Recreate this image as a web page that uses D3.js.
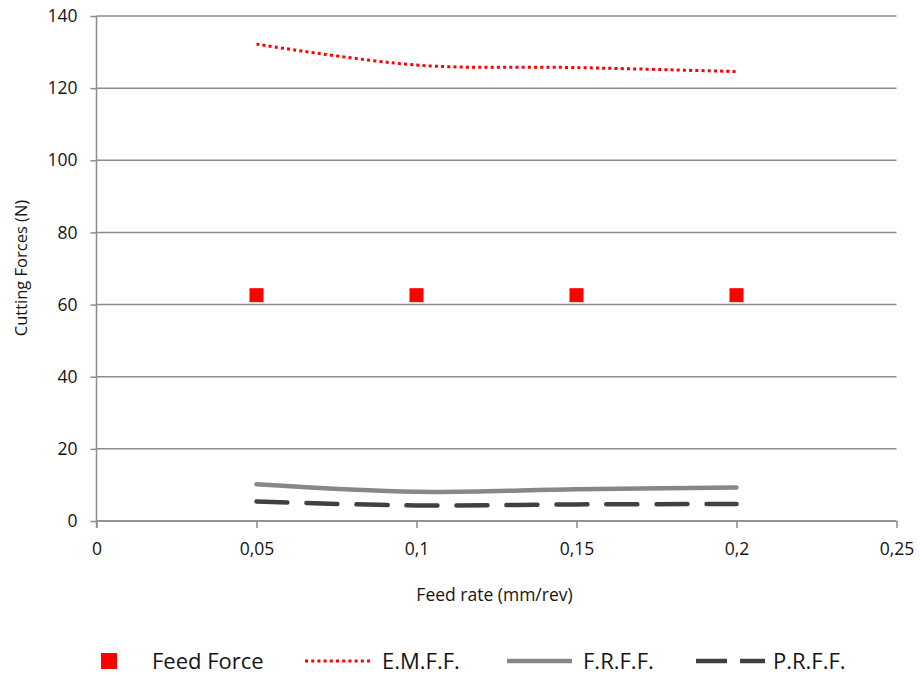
<!DOCTYPE html>
<html>
<head>
<meta charset="utf-8">
<script src="https://cdn.jsdelivr.net/npm/d3@7/dist/d3.min.js"></script>
<style>
  html, body { margin: 0; padding: 0; background: #fff; }
  svg { display: block; font-family: "Open Sans", sans-serif; }
</style>
</head>
<body>
<svg id="chart" width="920" height="677"></svg>
<script>
// Feed rate (mm/rev) and measured / predicted cutting forces (N)
const feedRates = [0.05, 0.1, 0.15, 0.2];
const feedForce = [62.6, 62.6, 62.6, 62.6];
const emff = [132.2, 126.4, 125.7, 124.6];
const frff = [10.2, 8.1, 8.8, 9.3];
const prff = [5.4, 4.3, 4.6, 4.7];

const xTicks = [0, 0.05, 0.1, 0.15, 0.2, 0.25];
const xTickLabels = ["0", "0,05", "0,1", "0,15", "0,2", "0,25"];
const yTicks = [0, 20, 40, 60, 80, 100, 120, 140];

const legendItems = [
  { name: "Feed Force", type: "square" },
  { name: "E.M.F.F.", type: "dotted" },
  { name: "F.R.F.F.", type: "solid" },
  { name: "P.R.F.F.", type: "dashed" }
];

const W = 920, H = 677;
const margin = { left: 96.5, right: 23.5, top: 16, bottom: 156 };

const svg = d3.select("#chart");

const x = d3.scaleLinear().domain([0, 0.25]).range([margin.left, W - margin.right]);
const y = d3.scaleLinear().domain([0, 140]).range([H - margin.bottom, margin.top]);

const gridColor = "#8c8c8c";
const textColor = "#141414";

// horizontal gridlines with short ticks to the left
const yAxis = svg.append("g")
  .attr("transform", `translate(${margin.left},0)`)
  .call(d3.axisLeft(y).tickValues(yTicks).tickSize(6).tickPadding(13).tickFormat(d3.format("d")));
yAxis.select(".domain").attr("stroke", gridColor).attr("stroke-width", 1.5)
  .attr("d", `M0,${y(140)}V${y(0) + 7}`);
yAxis.selectAll(".tick line").attr("stroke", gridColor).attr("stroke-width", 1.5);
yAxis.selectAll(".tick text").attr("fill", textColor).style("font-size", "17.5px")
  .style("font-family", "'Open Sans', sans-serif");

svg.append("g").selectAll("line").data(yTicks).join("line")
  .attr("x1", margin.left).attr("x2", W - margin.right)
  .attr("y1", d => y(d)).attr("y2", d => y(d))
  .attr("stroke", gridColor).attr("stroke-width", 1.5);

// x axis
const xAxis = svg.append("g")
  .attr("transform", `translate(0,${y(0)})`)
  .call(d3.axisBottom(x).tickValues(xTicks).tickSize(7).tickPadding(15)
    .tickFormat((d, i) => xTickLabels[i]));
xAxis.select(".domain").attr("stroke", gridColor).attr("stroke-width", 1.5)
  .attr("d", `M${margin.left},0H${W - margin.right}`);
xAxis.selectAll(".tick line").attr("stroke", gridColor).attr("stroke-width", 1.5);
xAxis.selectAll(".tick text").attr("fill", textColor).style("font-size", "17.5px")
  .style("font-family", "'Open Sans', sans-serif");

// axis titles
svg.append("text")
  .attr("x", (x(0) + x(0.25)) / 2 - 2).attr("y", 601)
  .attr("text-anchor", "middle").attr("fill", textColor)
  .style("font-size", "17.5px")
  .text("Feed rate (mm/rev)");

svg.append("text")
  .attr("transform", `translate(27,268) rotate(-90)`)
  .attr("text-anchor", "middle").attr("fill", textColor)
  .style("font-size", "16.5px")
  .text("Cutting Forces (N)");

// series
const curve = d3.curveCatmullRom;
const lineGen = vals => d3.line().curve(curve)
  .x((d, i) => x(feedRates[i])).y(d => y(d))(vals);

svg.append("path").attr("d", lineGen(frff))
  .attr("fill", "none").attr("stroke", "#878787").attr("stroke-width", 4.5)
  .attr("stroke-linecap", "round");

svg.append("path").attr("d", lineGen(prff))
  .attr("fill", "none").attr("stroke", "#404040").attr("stroke-width", 4.5)
  .attr("stroke-linecap", "round").attr("stroke-dasharray", "31,19");

svg.append("path").attr("d", lineGen(emff))
  .attr("fill", "none").attr("stroke", "#ff0000").attr("stroke-width", 3)
  .attr("stroke-dasharray", "3,3.2");

const sq = 14;
svg.append("g").selectAll("rect").data(feedForce).join("rect")
  .attr("x", (d, i) => x(feedRates[i]) - sq / 2)
  .attr("y", d => y(d) - sq / 2)
  .attr("width", sq).attr("height", sq)
  .attr("fill", "#ff0000");

// legend
const legY = 661;
const legendPos = [
  { sx: 101, sw: 16, tx: 152 },
  { sx: 305, sw: 68, tx: 382 },
  { sx: 507, sw: 65, tx: 583 },
  { sx: 696, sw: 69, tx: 773 }
];
const leg = svg.append("g");
legendItems.forEach((item, i) => {
  const p = legendPos[i];
  if (item.type === "square") {
    leg.append("rect").attr("x", p.sx).attr("y", legY - 8)
      .attr("width", p.sw).attr("height", 16).attr("fill", "#ff0000");
  } else {
    const l = leg.append("line")
      .attr("x1", p.sx).attr("x2", p.sx + p.sw)
      .attr("y1", legY).attr("y2", legY);
    if (item.type === "dotted") {
      l.attr("stroke", "#ff0000").attr("stroke-width", 3).attr("stroke-dasharray", "3,3.2");
    } else if (item.type === "solid") {
      l.attr("stroke", "#878787").attr("stroke-width", 4.5);
    } else {
      l.attr("stroke", "#404040").attr("stroke-width", 4.5).attr("stroke-dasharray", "31,13");
    }
  }
  leg.append("text").attr("x", p.tx).attr("y", legY)
    .attr("dy", "0.35em").attr("fill", textColor)
    .style("font-size", "22px")
    .text(item.name);
});
</script>
</body>
</html>
